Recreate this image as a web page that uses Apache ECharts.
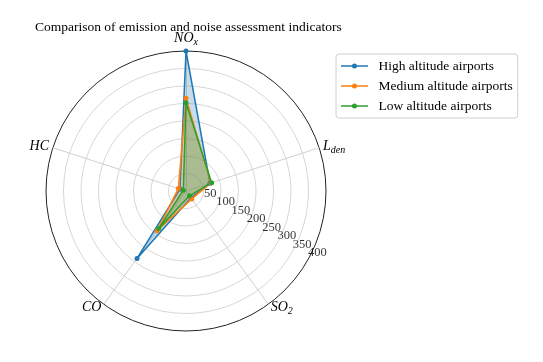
<!DOCTYPE html>
<html>
<head>
<meta charset="utf-8">
<script src="https://cdn.jsdelivr.net/npm/echarts@6/dist/echarts.min.js"></script>
<style>
html, body { margin: 0; padding: 0; background: #fff; }
#chart { width: 543px; height: 362px; }
</style>
</head>
<body>
<div id="chart"></div>
<script>
// indicators in echarts radar order (counter-clockwise, starting at the top)
const indicatorNames = ['{i|NO}{s|x}', '{i|HC}', '{i|CO}', '{i|SO}{s|2}', '{i|L}{s|den}']
const seriesNames = ['High altitude airports', 'Medium altitude airports', 'Low altitude airports']
const highValues = [400, 18, 238, 24, 72]
const mediumValues = [265, 23, 140, 28, 75]
const lowValues = [252, 8, 132, 17, 77]
const radialTicks = [50, 100, 150, 200, 250, 300, 350, 400]
const radialMax = 400
const radialStep = 50
const tickLabelAngle = 331 // degrees, counter-clockwise from 3 o'clock

const colors = ['#1f77b4', '#ff7f0e', '#2ca02c']
const serif = 'Liberation Serif, Times New Roman, serif'
const center = [186, 191]
const radius = 140

const chart = echarts.init(document.getElementById('chart'))

// rings: gray inside, dark outer circle
const ringColors = []
for (let v = 0; v <= radialMax; v += radialStep) ringColors.push('#d6d6d6')
ringColors[ringColors.length - 1] = '#222'

const option = {
  animation: false,
  color: colors,
  title: {
    text: 'Comparison of emission and noise assessment indicators',
    left: 30,
    top: 15,
    textStyle: { fontFamily: serif, fontSize: 13.5, fontWeight: 'normal', color: '#000' }
  },
  legend: {
    orient: 'vertical',
    left: 336,
    top: 54,
    padding: [5, 5, 5, 5],
    itemGap: 6,
    itemWidth: 28,
    itemHeight: 5,
    icon: 'path://M0,4.3H28V5.7H0Z M11.4,5A2.6,2.6,0,1,1,16.6,5A2.6,2.6,0,1,1,11.4,5Z',
    itemStyle: { borderWidth: 0 },
    borderColor: '#d0d0d0',
    borderWidth: 1,
    borderRadius: 3,
    backgroundColor: '#fff',
    data: seriesNames,
    textStyle: { fontFamily: serif, fontSize: 13.5, color: '#000', lineHeight: 14, padding: [0, 0, 0, 5] }
  },
  radar: {
    center: center,
    radius: radius,
    shape: 'circle',
    startAngle: 90,
    splitNumber: radialMax / radialStep,
    nameGap: 4,
    indicator: indicatorNames.map(n => ({ name: n, min: 0, max: radialMax })),
    axisName: {
      color: '#000',
      rich: {
        i: { fontFamily: serif, fontStyle: 'italic', fontSize: 14, lineHeight: 18, color: '#000' },
        s: { fontFamily: serif, fontStyle: 'italic', fontSize: 10, lineHeight: 10, padding: [8, 0, 0, 0], color: '#000' }
      }
    },
    axisLine: { lineStyle: { color: '#d0d0d0', width: 1 } },
    splitLine: { lineStyle: { color: ringColors, width: 1 } },
    splitArea: { show: false },
    axisTick: { show: false },
    axisLabel: { show: false }
  },
  // polar only places the radial tick labels
  polar: { center: center, radius: radius },
  angleAxis: {
    type: 'value', min: 0, max: 360, startAngle: 0, clockwise: false,
    axisLine: { show: false }, axisTick: { show: false },
    axisLabel: { show: false }, splitLine: { show: false }
  },
  radiusAxis: {
    type: 'value', min: 0, max: radialMax,
    axisLine: { show: false }, axisTick: { show: false },
    axisLabel: { show: false }, splitLine: { show: false }
  },
  series: [
    {
      type: 'radar',
      symbol: 'circle',
      symbolSize: 5,
      lineStyle: { width: 1.5 },
      areaStyle: { opacity: 0.25 },
      data: [
        { name: seriesNames[0], value: highValues, itemStyle: { color: colors[0] } },
        { name: seriesNames[1], value: mediumValues, itemStyle: { color: colors[1] } },
        { name: seriesNames[2], value: lowValues, itemStyle: { color: colors[2] } }
      ]
    },
    {
      type: 'scatter',
      coordinateSystem: 'polar',
      symbolSize: 0,
      silent: true,
      data: radialTicks.map(v => [v, tickLabelAngle]),
      label: {
        show: true,
        position: 'inside',
        offset: [9, -6],
        fontFamily: serif,
        fontSize: 12.5,
        color: '#000',
        formatter: p => p.value[0]
      }
    }
  ]
}

chart.setOption(option)
</script>
</body>
</html>
